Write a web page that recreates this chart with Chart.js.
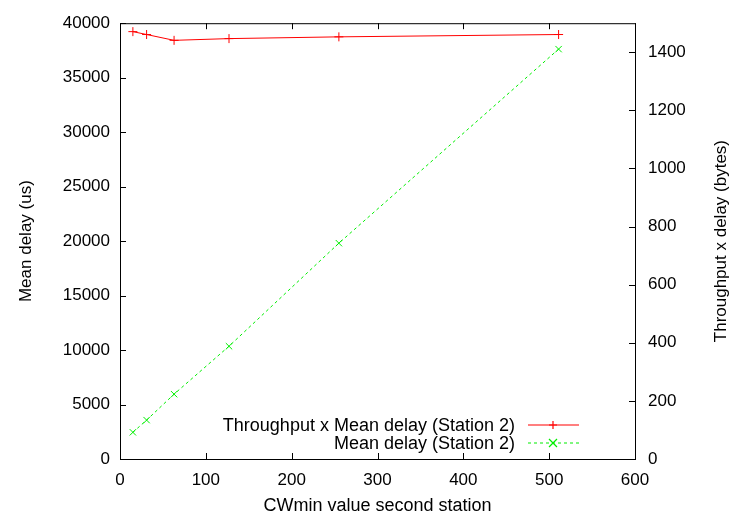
<!DOCTYPE html>
<html>
<head>
<meta charset="utf-8">
<script src="https://cdn.jsdelivr.net/npm/chart.js@4"></script>
<style>
	html, body { margin: 0; padding: 0; background: #fff; }
	#wrap { width: 731px; height: 517px; }
</style>
</head>
<body>
<div id="wrap"><canvas id="delayChart" width="731" height="517"></canvas></div>
<script>
// data
const cwmin = [15, 31, 63, 127, 255, 511]
const throughputDelay = [1471, 1461, 1441, 1447, 1453, 1461]
const meanDelay = [2450, 3570, 5950, 10350, 19810, 37620]

const FONT = 'Liberation Sans, Arial, Helvetica, sans-serif'
const RED = '#ff0000'
const GREEN = '#00ee00'

// gnuplot-like frame, inward ticks, y titles and inside legend
const gnuplotFrame = {
	id: 'gnuplotFrame',
	afterDraw(chart) {
		const ctx = chart.ctx
		const area = chart.chartArea
		const tl = 6
		ctx.save()
		ctx.strokeStyle = '#000'
		ctx.lineWidth = 1
		ctx.strokeRect(area.left + 0.5, area.top + 0.5, area.right - area.left, area.bottom - area.top)
		ctx.beginPath()
		chart.scales.x.ticks.forEach(t => {
			const px = Math.round(chart.scales.x.getPixelForValue(t.value)) + 0.5
			ctx.moveTo(px, area.bottom); ctx.lineTo(px, area.bottom - tl)
			ctx.moveTo(px, area.top); ctx.lineTo(px, area.top + tl)
		})
		chart.scales.y.ticks.forEach(t => {
			const py = Math.round(chart.scales.y.getPixelForValue(t.value)) + 0.5
			ctx.moveTo(area.left, py); ctx.lineTo(area.left + tl, py)
		})
		chart.scales.y2.ticks.forEach(t => {
			const py = Math.round(chart.scales.y2.getPixelForValue(t.value)) + 0.5
			ctx.moveTo(area.right, py); ctx.lineTo(area.right - tl, py)
		})
		ctx.stroke()

		// y axis titles, both reading bottom to top
		const midY = (area.top + area.bottom) / 2
		ctx.fillStyle = '#000'
		ctx.font = '17px ' + FONT
		ctx.textAlign = 'center'
		ctx.textBaseline = 'middle'
		ctx.save()
		ctx.translate(26, midY)
		ctx.rotate(-Math.PI / 2)
		ctx.fillText('Mean delay (us)', 0, 0)
		ctx.restore()
		ctx.save()
		ctx.translate(721, midY)
		ctx.rotate(-Math.PI / 2)
		ctx.fillText('Throughput x delay (bytes)', 0, 0)
		ctx.restore()

		// legend
		ctx.font = '18px ' + FONT
		ctx.textAlign = 'right'
		ctx.textBaseline = 'middle'
		const rows = [425, 443]
		const colors = [RED, GREEN]
		chart.data.datasets.forEach((ds, i) => {
			const y = rows[i]
			ctx.fillStyle = '#000'
			ctx.fillText(ds.label, 515, y + 1)
			ctx.strokeStyle = colors[i]
			ctx.lineWidth = 1.2
			ctx.setLineDash(i === 1 ? [3, 3] : [])
			ctx.beginPath()
			ctx.moveTo(528, y); ctx.lineTo(579, y)
			ctx.stroke()
			ctx.setLineDash([])
			ctx.beginPath()
			const r = 4
			if (i === 0) {
				ctx.moveTo(553 - r, y); ctx.lineTo(553 + r, y)
				ctx.moveTo(553, y - r); ctx.lineTo(553, y + r)
			} else {
				ctx.moveTo(553 - r, y - r); ctx.lineTo(553 + r, y + r)
				ctx.moveTo(553 + r, y - r); ctx.lineTo(553 - r, y + r)
			}
			ctx.stroke()
		})
		ctx.restore()
	},
}

const numLabel = v => String(v)

new Chart(document.getElementById('delayChart').getContext('2d'), {
	type: 'line',
	data: {
		labels: cwmin,
		datasets: [
			{
				label: 'Throughput x Mean delay (Station 2)',
				data: cwmin.map((x, i) => ({ x: x, y: throughputDelay[i] })),
				yAxisID: 'y2',
				borderColor: RED,
				backgroundColor: RED,
				borderWidth: 1,
				pointStyle: 'cross',
				pointRadius: 4.5,
				pointBorderWidth: 1,
				fill: false,
				tension: 0,
			},
			{
				label: 'Mean delay (Station 2)',
				data: cwmin.map((x, i) => ({ x: x, y: meanDelay[i] })),
				yAxisID: 'y',
				borderColor: GREEN,
				backgroundColor: GREEN,
				borderWidth: 1,
				borderDash: [3, 3],
				pointStyle: 'crossRot',
				pointRadius: 4.5,
				pointBorderWidth: 1,
				fill: false,
				tension: 0,
			},
		],
	},
	options: {
		responsive: false,
		animation: false,
		devicePixelRatio: 1,
		layout: { padding: { top: 22, right: 0, bottom: 0, left: 0 } },
		plugins: {
			legend: { display: false },
			tooltip: { enabled: false },
		},
		scales: {
			x: {
				type: 'linear',
				min: 0,
				max: 600,
				grid: { display: false, drawTicks: false },
				border: { display: false },
				afterFit: s => { s.height = 58 },
				ticks: { stepSize: 100, color: '#000', padding: 11, font: { family: FONT, size: 17 }, callback: numLabel },
				title: { display: true, text: 'CWmin value second station', color: '#000', padding: { top: 0, bottom: 0 }, font: { family: FONT, size: 18 } },
			},
			y: {
				position: 'left',
				min: 0,
				max: 40000,
				grid: { display: false, drawTicks: false },
				border: { display: false },
				afterFit: s => { s.width = 120 },
				ticks: { stepSize: 5000, color: '#000', padding: 10, font: { family: FONT, size: 17 }, callback: numLabel },
			},
			y2: {
				position: 'right',
				min: 0,
				max: 1500,
				grid: { display: false, drawTicks: false },
				border: { display: false },
				afterFit: s => { s.width = 96 },
				afterBuildTicks: s => { s.ticks = s.ticks.filter(t => t.value % 200 === 0) },
				ticks: { stepSize: 200, color: '#000', padding: 13, font: { family: FONT, size: 17 }, callback: numLabel },
			},
		},
	},
	plugins: [gnuplotFrame],
})
</script>
</body>
</html>
